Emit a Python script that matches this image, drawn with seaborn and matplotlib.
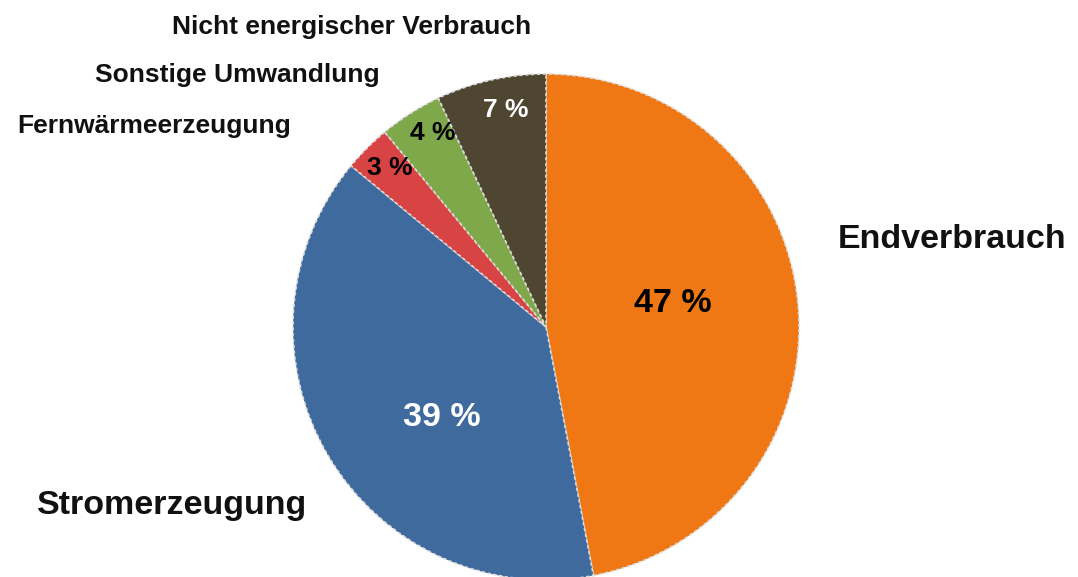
"""
Pie chart: Verwendung der Primärenergie (Anteile in %)
"""

import matplotlib
matplotlib.use("Agg")
import matplotlib.pyplot as plt
import seaborn as sns

# data
categories = ["Endverbrauch", "Stromerzeugung", "Fernwärmeerzeugung",
              "Sonstige Umwandlung", "Nicht energischer Verbrauch"]
shares = [47, 39, 3, 4, 7]
pct_labels = ["47 %", "39 %", "3 %", "4 %", "7 %"]

# styling
slice_colors = ["#F07814", "#3F6A9E", "#D84343", "#7FA84A", "#4E4631"]
pct_colors = ["black", "white", "black", "black", "white"]

W, H = 1078, 577


def main():
	sns.set_theme(style="white")
	plt.rcParams['font.family'] = ['Liberation Sans', 'DejaVu Sans']
	pal = sns.color_palette(slice_colors)

	fig = plt.figure(figsize=(W / 100, H / 100), dpi=100)
	ax = fig.add_axes([0, 0, 1, 1])

	# pie, centre and radius in pixel units
	cx, cy, r = 546, H - 327, 253
	ax.pie(shares, colors=pal, startangle=90, counterclock=False,
		center=(cx, cy), radius=r, frame=True,
		wedgeprops=dict(edgecolor="#dcdcdc", linewidth=1.2, linestyle=(0, (2, 1.5))))
	ax.set_xlim(0, W)
	ax.set_ylim(0, H)
	ax.set_aspect('equal')
	ax.axis('off')

	# percentage labels (image pixel centres)
	pct_pos = [(673, 304), (442, 418), (390, 168), (433, 133), (506, 110)]
	pct_size = [24.5, 24.5, 19, 19, 19]
	for lab, (px, py), col, fs in zip(pct_labels, pct_pos, pct_colors, pct_size):
		ax.text(px, H - py, lab, color=col, fontsize=fs, fontweight='bold',
			ha='center', va='center')

	# category labels (left x, baseline y)
	cat_pos = [(838, 248), (37, 514), (17, 133), (95, 82), (172, 34)]
	cat_size = [24.5, 24.5, 19, 19, 19]
	for lab, (px, py), fs in zip(categories, cat_pos, cat_size):
		ax.text(px, H - py, lab, color="#111111", fontsize=fs, fontweight='bold',
			ha='left', va='baseline')

	fig.savefig("out.png", dpi=100, facecolor="white")


if __name__ == "__main__":
	main()
